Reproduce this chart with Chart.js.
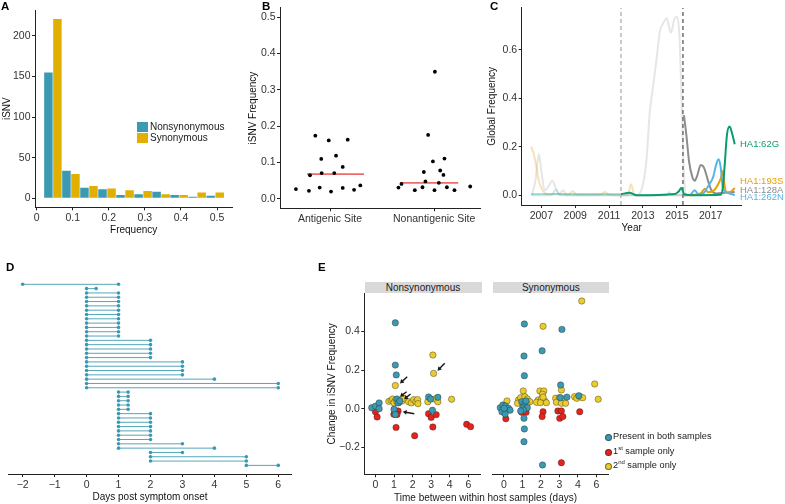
<!DOCTYPE html>
<html>
<head>
<meta charset="utf-8">
<script src="https://cdn.jsdelivr.net/npm/chart.js@4.4.1/dist/chart.umd.min.js"></script>
<style>
  body { margin: 0; width: 785px; height: 504px; position: relative; overflow: hidden; background: #fff;
         font-family: Arial, "Liberation Sans", Helvetica, sans-serif; }
  canvas { position: absolute; }
  .tag { position: absolute; font-weight: bold; font-size: 11.5px; line-height: 1; color: #000; }
  .txt { position: absolute; font-size: 10px; line-height: 1; white-space: nowrap; color: #1a1a1a; }
  .sq { position: absolute; width: 11px; height: 10px; }
  .strip { position: absolute; background: #d9d9d9; font-size: 10px; line-height: 11.6px; height: 11.6px; text-align: center; color: #1a1a1a; }
  .dot { position: absolute; width: 5px; height: 5px; border-radius: 50%; border: 0.6px solid rgba(40,40,40,0.6); }
  sup { font-size: 6px; vertical-align: 4px; line-height: 0; }
</style>
</head>
<body>
<canvas id="cA" width="240" height="240" style="left:0;top:0"></canvas>
<canvas id="cB" width="246" height="240" style="left:244px;top:0"></canvas>
<canvas id="cC" width="301" height="240" style="left:484px;top:0"></canvas>
<canvas id="cD" width="300" height="244" style="left:0;top:260px"></canvas>
<canvas id="cE1" width="161" height="244" style="left:324px;top:260px"></canvas>
<canvas id="cE2" width="125" height="244" style="left:488px;top:260px"></canvas>

<div class="tag" style="left:1px;top:1px">A</div>
<div class="tag" style="left:262px;top:1px">B</div>
<div class="tag" style="left:490px;top:1px">C</div>
<div class="tag" style="left:6px;top:262px">D</div>
<div class="tag" style="left:318px;top:262px">E</div>

<div class="sq" style="left:137px;top:122px;background:#3B9AB2"></div>
<div class="sq" style="left:137px;top:133px;background:#E1AF00"></div>
<div class="txt" style="left:150px;top:122px">Nonsynonymous</div>
<div class="txt" style="left:150px;top:133px">Synonymous</div>

<div class="txt" style="left:740px;top:138.5px;font-size:9.5px;color:#0a9b6e">HA1:62G</div>
<div class="txt" style="left:740px;top:176px;font-size:9.5px;color:#E69F00">HA1:193S</div>
<div class="txt" style="left:740px;top:184.5px;font-size:9.5px;color:#8c8c8c">HA1:128A</div>
<div class="txt" style="left:740px;top:192px;font-size:9.5px;color:#56B4E9">HA1:262N</div>

<div class="strip" style="left:364.5px;top:281.7px;width:117px">Nonsynonymous</div>
<div class="strip" style="left:492.7px;top:281.7px;width:116.3px">Synonymous</div>
<div class="txt" style="left:394px;top:492.5px">Time between within host samples (days)</div>

<div class="dot" style="left:604.5px;top:433.8px;background:#3B9AB2"></div>
<div class="dot" style="left:604.5px;top:448.8px;background:#E5231B"></div>
<div class="dot" style="left:604.5px;top:462.8px;background:#EBCC2A"></div>
<div class="txt" style="left:613px;top:432px;font-size:9.2px">Present in both samples</div>
<div class="txt" style="left:613px;top:447px;font-size:9.2px">1<sup>st</sup> sample only</div>
<div class="txt" style="left:613px;top:461px;font-size:9.2px">2<sup>nd</sup> sample only</div>

<script>
// ---- A: iSNV frequency histogram (bins of 0.05) ----
const aBinMid = [0.045, 0.095, 0.145, 0.195, 0.245, 0.295, 0.345, 0.395, 0.445, 0.495];
const aNonsyn = [155, 34, 13, 11, 4, 5, 8, 4, 2, 3];
const aSyn = [221, 30, 15, 12, 10, 9, 5, 4, 7, 7];
const aXTicks = [0, 0.1, 0.2, 0.3, 0.4, 0.5];
const aYTicks = [0, 50, 100, 150, 200];

// ---- B: antigenic vs nonantigenic sites ----
const bCats = ['Antigenic Site', 'Nonantigenic Site'];
const bAntX = [0.673, 0.798, 0.808, 0.859, 0.901, 0.916, 0.920, 0.988, 1.010, 1.041, 1.058, 1.122, 1.122, 1.170, 1.231, 1.291];
const bAntY = [0.027, 0.022, 0.065, 0.174, 0.031, 0.110, 0.071, 0.161, 0.020, 0.071, 0.119, 0.088, 0.030, 0.163, 0.025, 0.037];
const bNonX = [1.657, 1.686, 1.814, 1.888, 1.901, 1.916, 1.942, 1.988, 2.007, 2.003, 2.045, 2.058, 2.089, 2.099, 2.122, 2.195, 2.346];
const bNonY = [0.031, 0.041, 0.024, 0.032, 0.074, 0.048, 0.176, 0.103, 0.350, 0.024, 0.044, 0.078, 0.066, 0.111, 0.032, 0.024, 0.034];
const bMean = [0.068, 0.044];
const bYTicks = [0, 0.1, 0.2, 0.3, 0.4, 0.5];

// ---- C: global frequency over time ----
const c62G = [[2011.7,0.004],[2012.2,0.01],[2012.6,0.0],[2014.9,0.005],[2015.1,0.015],[2015.27,0.03],[2015.42,0.005],[2015.8,0.0],[2017.6,0.002],[2017.73,0.04],[2017.83,0.128],[2017.96,0.25],[2018.12,0.283],[2018.28,0.25],[2018.42,0.21]];
const c128A = [[2015.42,0.33],[2015.56,0.25],[2015.72,0.14],[2015.92,0.074],[2016.05,0.06],[2016.2,0.08],[2016.41,0.125],[2016.55,0.12],[2016.65,0.105],[2016.84,0.06],[2017.04,0.02],[2017.33,0.007],[2017.8,0.01],[2018.42,0.013]];
const c262N = [[2015.42,0.0],[2015.8,0.002],[2016.05,0.02],[2016.3,0.002],[2016.6,0.01],[2016.84,0.036],[2017.14,0.074],[2017.33,0.128],[2017.47,0.148],[2017.59,0.115],[2017.72,0.03],[2017.9,0.013],[2018.2,0.005],[2018.42,0.0]];
const c193S = [[2015.42,0.0],[2016.1,0.002],[2016.45,0.01],[2016.65,0.027],[2016.85,0.012],[2017.2,0.02],[2017.4,0.04],[2017.6,0.07],[2017.72,0.10],[2017.82,0.04],[2017.95,0.01],[2018.2,0.015],[2018.42,0.03]];
const cFadeGray = [[2006.45,0.0],[2006.65,0.06],[2006.85,0.17],[2007.0,0.1],[2007.2,0.02],[2007.45,0.04],[2007.65,0.06],[2007.85,0.03],[2008.05,0.005],[2008.3,0.02],[2008.5,0.0],[2012.6,0.0],[2012.9,0.02],[2013.2,0.14],[2013.4,0.34],[2013.6,0.45],[2013.8,0.56],[2014.0,0.675],[2014.2,0.71],[2014.4,0.73],[2014.65,0.67],[2014.87,0.73],[2015.02,0.735],[2015.15,0.66],[2015.28,0.4],[2015.4,0.12],[2015.5,0.0]];
const cFadeYellow = [[2006.4,0.2],[2006.55,0.17],[2006.7,0.12],[2006.85,0.06],[2007.0,0.03],[2007.3,0.005],[2008.6,0.003],[2008.85,0.016],[2009.1,0.002],[2010.5,0.003],[2010.75,0.013],[2011.0,0.002],[2012.1,0.0],[2012.3,0.045],[2012.5,0.0],[2015.4,0.0]];
const cFadeBlue = [[2006.4,0.0],[2007.6,0.0],[2007.85,0.022],[2008.1,0.0],[2014.4,0.0],[2014.55,0.012],[2014.7,0.0],[2015.4,0.0]];
const cFadeGreen = [[2006.4,0.005],[2011.7,0.005]];
const cDash = [2011.7, 2015.36];
const cXTicks = [2007, 2009, 2011, 2013, 2015, 2017];
const cYTicks = [0, 0.2, 0.4, 0.6];

// ---- D: sampling days per host (one row per host, top to bottom) ----
const dStart = [-2, 0, 0,0,0,0,0,0,0,0,0,0,0, 0,0,0,0,0, 0,0,0,0, 0, 0,0, 1,1,1,1,1, 1,1,1,1,1,1,1, 1, 1, 2, 2,2, 5];
const dEnd   = [ 1, 0.3, 1,1,1,1,1,1,1,1,1,1,1, 2,2,2,2,2, 3,3,3,3, 4, 6,6, 1.3,1.3,1.3,1.3,1.3, 2,2,2,2,2,2,2, 3, 4, 3, 5,5, 6];
const dXTicks = [-2, -1, 0, 1, 2, 3, 4, 5, 6];

// ---- E: change in iSNV frequency by days between samples ----
const eDays = ['0', '1', '2', '3', '4', '6'];
const eNonBoth = [[-0.2,0.005],[0,0.013],[0.2,0.03],[0.2,0.0],[1.07,0.445],[1.07,0.226],[1.12,0.175],[1.16,0.05],[1.22,0.03],[1.31,0.04],[1.0,-0.003],[1.07,-0.03],[2.86,0.061],[3.36,0.059],[2.97,0.05],[3.07,-0.008]];
const eNonFirst = [[0,-0.016],[0.09,-0.043],[0.99,-0.029],[1.22,-0.012],[1.16,-0.03],[1.11,-0.097],[2.11,-0.14],[2.86,-0.026],[3.0,-0.045],[3.27,-0.031],[3.09,-0.095],[4.91,-0.081],[5.12,-0.093]];
const eNonSecond = [[1.07,0.12],[0.72,0.038],[0.85,0.043],[0.93,0.05],[1.07,0.043],[1.0,0.03],[1.15,0.038],[1.28,0.033],[1.43,0.04],[1.52,0.054],[1.79,0.036],[1.93,0.03],[2.06,0.047],[2.18,0.036],[2.27,0.047],[2.29,0.026],[3.09,0.278],[3.13,0.183],[2.82,0.036],[3.18,0.05],[3.36,0.036],[4.1,0.049]];
const eSynBoth = [[-0.19,0.005],[-0.05,0.019],[0.09,0.014],[0.25,0.002],[0.34,-0.008],[-0.1,-0.016],[0.07,-0.027],[0.02,0.002],[1.11,0.439],[1.09,0.273],[1.11,0.171],[0.97,0.036],[1.13,0.023],[1.02,0.005],[1.27,0.005],[1.05,-0.007],[1.2,0.04],[0.91,-0.012],[1.09,-0.05],[1.11,-0.105],[1.09,-0.171],[2.07,0.30],[2.09,-0.292],[3.14,0.411],[3.07,0.123],[3.05,0.057],[3.41,0.06],[4.05,0.067]];
const eSynFirst = [[0.11,-0.052],[0.97,-0.019],[1.2,-0.019],[2.12,-0.016],[2.07,-0.041],[2.92,-0.012],[3.11,-0.012],[3.02,-0.05],[3.19,-0.041],[3.11,-0.28],[4.1,-0.016]];
const eSynSecond = [[0.17,0.04],[1.05,0.092],[0.79,0.045],[0.91,0.057],[1.14,0.062],[1.27,0.05],[1.41,0.036],[0.97,0.028],[1.24,0.026],[0.74,0.028],[2.12,0.427],[1.95,0.092],[2.16,0.092],[2.09,0.075],[1.86,0.045],[2.04,0.05],[2.21,0.04],[1.77,0.033],[1.98,0.031],[2.3,0.031],[2.12,0.06],[3.11,0.097],[2.8,0.054],[3.0,0.057],[3.21,0.05],[2.84,0.033],[3.11,0.028],[3.34,0.028],[4.21,0.558],[3.82,0.062],[3.94,0.054],[4.12,0.062],[4.26,0.057],[4.91,0.128],[5.1,0.049]];
const eArrowTail = [[3.73,0.235],[1.71,0.166],[1.68,0.088],[1.89,0.076],[2.09,-0.026]];
const eArrowHead = [[3.34,0.197],[1.32,0.131],[1.32,0.062],[1.54,0.049],[1.47,-0.016]];
const eYTicks = [-0.2, 0, 0.2, 0.4];

const BLUE = '#3B9AB2', GOLD = '#E1AF00', TEAL = '#3B9AB2', RED = '#E5231B', YEL = '#EBCC2A';
const INK = '#333';
const minus = s => String(s).replace('-', '\u2212');
const pts = a => a.map(([x, y]) => ({x, y}));

Chart.defaults.font.family = 'Arial, "Liberation Sans", Helvetica, sans-serif';
Chart.defaults.font.size = 10;

function axis(o) {
  const horiz = o.pos === 'x';
  const s = {
    type: 'linear', min: o.min, max: o.max, reverse: !!o.reverse, display: !o.hide, offset: false,
    afterFit: sc => { if (o.size) { if (horiz) sc.height = o.size; else sc.width = o.size; } },
    ticks: {color: INK, padding: 1.5, autoSkip: false, maxRotation: 0, font: {size: 10.5}},
    grid: {drawOnChartArea: false, tickLength: 3, color: '#222', offset: false},
    border: {color: '#222', width: 1},
    title: o.title ? {display: true, text: o.title, color: '#111', padding: o.titlePad} : {display: false},
  };
  if (o.ticks) {
    s.afterBuildTicks = sc => { sc.ticks = o.ticks.map(v => ({value: v})); };
    s.ticks.callback = o.fmt;
  }
  return s;
}

function opts(pad, x, y) {
  return {
    responsive: false, animation: false, events: [],
    layout: {padding: pad},
    plugins: {legend: {display: false}, tooltip: {enabled: false}},
    scales: {x, y},
  };
}

// A
new Chart(document.getElementById('cA'), {
  type: 'bar',
  data: {datasets: [
    {data: aBinMid.map((x, i) => ({x, y: aNonsyn[i]})), backgroundColor: BLUE, barPercentage: 0.94, categoryPercentage: 1},
    {data: aBinMid.map((x, i) => ({x, y: aSyn[i]})), backgroundColor: GOLD, barPercentage: 0.94, categoryPercentage: 1},
  ]},
  options: opts({left: 0, top: 10, right: 7.7, bottom: 0},
    axis({pos: 'x', min: -0.0047, max: 0.5424, ticks: aXTicks, fmt: v => String(v), size: 32.7, title: 'Frequency', titlePad: {top: 0, bottom: 4}}),
    axis({pos: 'y', min: -11.1, max: 232, ticks: aYTicks, fmt: v => String(v), size: 35, title: 'iSNV', titlePad: {top: 1, bottom: 0}})),
});

// B
new Chart(document.getElementById('cB'), {
  type: 'scatter',
  data: {datasets: [
    {data: bAntX.map((x, i) => ({x, y: bAntY[i]})), pointRadius: 1.9, pointBackgroundColor: '#000', pointBorderWidth: 0},
    {data: bNonX.map((x, i) => ({x, y: bNonY[i]})), pointRadius: 1.9, pointBackgroundColor: '#000', pointBorderWidth: 0},
    {data: [{x: 0.779, y: bMean[0]}, {x: 1.327, y: bMean[0]}], showLine: true, borderColor: '#EE6B6B', borderWidth: 1.6, pointRadius: 0},
    {data: [{x: 1.673, y: bMean[1]}, {x: 2.231, y: bMean[1]}], showLine: true, borderColor: '#EE6B6B', borderWidth: 1.6, pointRadius: 0},
  ]},
  options: opts({left: 0, top: 6.7, right: 10, bottom: 0},
    axis({pos: 'x', min: 0.52, max: 2.44, ticks: [1, 2], fmt: v => bCats[v - 1], size: 31.7}),
    axis({pos: 'y', min: -0.026, max: 0.526, ticks: bYTicks, fmt: v => v.toFixed(1), size: 36, title: 'iSNV Frequency', titlePad: {top: 3, bottom: 0}})),
});

// C
const cYMin = -0.0405, cYMax = 0.773;
const cLine = (a, color, w) => ({data: pts(a), showLine: true, borderColor: color, borderWidth: w || 2, pointRadius: 0, cubicInterpolationMode: 'monotone'});
const cVLine = (x, color) => ({data: [{x, y: cYMin}, {x, y: cYMax}], showLine: true, borderColor: color, borderWidth: 1.5, borderDash: [4, 3], pointRadius: 0});
new Chart(document.getElementById('cC'), {
  type: 'scatter',
  data: {datasets: [
    cLine(c62G, '#0a9b6e'),
    cLine(c262N, '#56B4E9'),
    cLine(c193S, '#E69F00'),
    cLine(c128A, '#8c8c8c'),
    cVLine(cDash[1], '#707070'),
    cVLine(cDash[0], '#b8b8b8'),
    cLine(cFadeGreen, 'rgba(0,158,115,0.3)'),
    cLine(cFadeBlue, 'rgba(86,180,233,0.3)'),
    cLine(cFadeYellow, 'rgba(235,190,100,0.45)'),
    cLine(cFadeGray, 'rgba(205,205,205,0.5)'),
  ]},
  options: opts({left: 0, top: 4, right: 43.3, bottom: 0},
    axis({pos: 'x', min: 2005.84, max: 2018.83, ticks: cXTicks, fmt: v => String(v), size: 35, title: 'Year', titlePad: {top: 0, bottom: 6}}),
    axis({pos: 'y', min: cYMin, max: cYMax, ticks: cYTicks, fmt: v => v.toFixed(1), size: 37.7, title: 'Global Frequency', titlePad: {top: 2.5, bottom: 0}})),
});

// D
new Chart(document.getElementById('cD'), {
  type: 'scatter',
  data: {datasets: dStart.map((s, i) => ({
    data: [{x: s, y: i}, {x: dEnd[i], y: i}], showLine: true, borderColor: '#55a6bb', borderWidth: 1,
    pointRadius: 1.8, pointBackgroundColor: TEAL, pointBorderWidth: 0,
  }))},
  options: opts({left: 8.3, top: 20, right: 8.3, bottom: 0},
    axis({pos: 'x', min: -2.45, max: 6.42, ticks: dXTicks, fmt: v => minus(v), size: 30, title: 'Days post symptom onset', titlePad: {top: 0, bottom: 0.5}}),
    axis({pos: 'y', min: -1, max: 44, reverse: true, hide: true})),
});

// E
const eSet = (a, color, order) => ({data: pts(a), order, pointRadius: 3.2, pointBackgroundColor: color,
  pointBorderColor: 'rgba(35,35,35,0.65)', pointBorderWidth: 0.6});
const arrows = {
  id: 'arrows',
  afterDatasetsDraw(chart) {
    const {ctx, scales: {x, y}} = chart;
    ctx.save();
    ctx.strokeStyle = ctx.fillStyle = '#1a1a1a';
    ctx.lineWidth = 1.4;
    eArrowTail.forEach((t, i) => {
      const h = eArrowHead[i];
      const x0 = x.getPixelForValue(t[0]), y0 = y.getPixelForValue(t[1]);
      const x1 = x.getPixelForValue(h[0]), y1 = y.getPixelForValue(h[1]);
      const a = Math.atan2(y1 - y0, x1 - x0);
      ctx.beginPath(); ctx.moveTo(x0, y0); ctx.lineTo(x1 - 3 * Math.cos(a), y1 - 3 * Math.sin(a)); ctx.stroke();
      ctx.beginPath(); ctx.moveTo(x1, y1);
      ctx.lineTo(x1 - 4.5 * Math.cos(a - 0.55), y1 - 4.5 * Math.sin(a - 0.55));
      ctx.lineTo(x1 - 4.5 * Math.cos(a + 0.55), y1 - 4.5 * Math.sin(a + 0.55));
      ctx.closePath(); ctx.fill();
    });
    ctx.restore();
  },
};
const eX = size => axis({pos: 'x', min: -0.6, max: 5.65, ticks: [0, 1, 2, 3, 4, 5], fmt: v => eDays[v], size});
new Chart(document.getElementById('cE1'), {
  type: 'scatter',
  data: {datasets: [eSet(eNonBoth, TEAL, 1), eSet(eNonFirst, RED, 2), eSet(eNonSecond, YEL, 3)]},
  options: opts({left: 0, top: 33.3, right: 3.3, bottom: 0}, eX(29.7),
    axis({pos: 'y', min: -0.34, max: 0.598, ticks: eYTicks, fmt: v => minus(v.toFixed(1)), size: 40.3, title: 'Change in iSNV Frequency', titlePad: {top: 2.7, bottom: 0}})),
  plugins: [arrows],
});
new Chart(document.getElementById('cE2'), {
  type: 'scatter',
  data: {datasets: [eSet(eSynBoth, TEAL, 1), eSet(eSynFirst, RED, 2), eSet(eSynSecond, YEL, 3)]},
  options: opts({left: 4.7, top: 33.3, right: 4, bottom: 0}, eX(29.7),
    axis({pos: 'y', min: -0.34, max: 0.598, hide: true})),
});
</script>
</body>
</html>
